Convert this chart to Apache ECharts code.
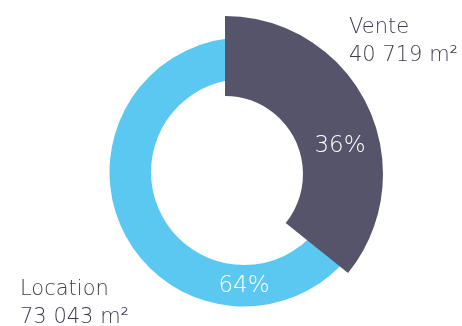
<!DOCTYPE html>
<html>
<head>
<meta charset="utf-8">
<script src="https://cdn.jsdelivr.net/npm/echarts@6/dist/echarts.min.js"></script>
<style>
html,body{margin:0;padding:0;background:#fff;}
#c{width:462px;height:326px;}
</style>
</head>
<body>
<div id="c"></div>
<script>
const categories = ['Vente', 'Location'];
const areas = [40719, 73043];
const unit = 'm²';

const total = areas.reduce((a, b) => a + b, 0);
const pct = v => Math.round(v / total * 100) + '%';
const fmt = v => String(v).replace(/\B(?=(\d{3})+(?!\d))/g, ' ');

const DARK = '#56546A';
const BLUE = '#5BC8F2';
const TEXT = '#3E3C50';
const FONT = '"DejaVu Sans", sans-serif';

const nameLabel = {
  show: true, position: 'inside', color: TEXT, fontFamily: FONT, fontWeight: 200,
  fontSize: 21, lineHeight: 28, align: 'left',
  formatter: p => p.name + '\n' + fmt(p.value) + ' ' + unit
};
const pctLabel = {
  show: true, position: 'inside', color: '#fff', fontFamily: FONT, fontWeight: 200,
  fontSize: 23, formatter: p => pct(p.value)
};

// label anchor positions (pixels)
const labelPos = {
  '0-0': {x: 349, y: 42, align: 'left'},    // Vente name
  '0-1': {x: 244, y: 286, align: 'center'}, // 64%
  '1-0': {x: 340, y: 146, align: 'center'}, // 36%
  '1-1': {x: 20, y: 304, align: 'left'}     // Location name
};
const layoutFn = p => {
  const q = labelPos[p.seriesIndex + '-' + p.dataIndex];
  return {x: q.x, y: q.y, align: q.align, verticalAlign: 'middle'};
};

const chart = echarts.init(document.getElementById('c'), null, {renderer: 'canvas'});
chart.setOption({
  animation: false,
  backgroundColor: '#fff',
  series: [
    {
      type: 'pie', silent: true, center: [244, 172], radius: [93, 134.5],
      startAngle: 90, clockwise: true, avoidLabelOverlap: false,
      labelLine: {show: false}, labelLayout: layoutFn,
      data: [
        {name: categories[0], value: areas[0], itemStyle: {color: 'rgba(0,0,0,0)'}, label: nameLabel},
        {name: categories[1], value: areas[1], itemStyle: {color: BLUE}, label: pctLabel}
      ]
    },
    {
      type: 'pie', silent: true, center: [225, 174], radius: [78, 158],
      startAngle: 90, clockwise: true, avoidLabelOverlap: false,
      labelLine: {show: false}, labelLayout: layoutFn,
      data: [
        {name: categories[0], value: areas[0], itemStyle: {color: DARK}, label: pctLabel},
        {name: categories[1], value: areas[1], itemStyle: {color: 'rgba(0,0,0,0)'}, label: nameLabel}
      ]
    }
  ]
});
</script>
</body>
</html>
